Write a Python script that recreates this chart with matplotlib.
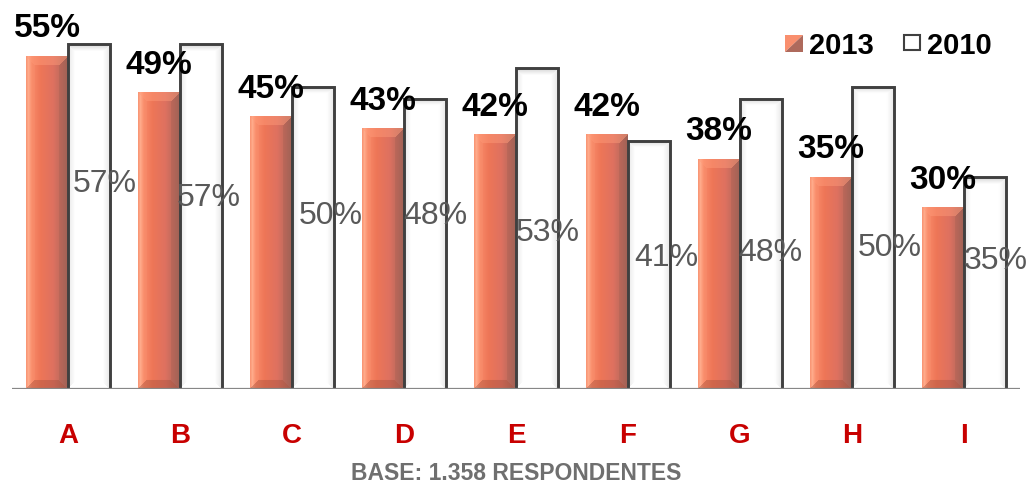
import numpy as np
import matplotlib
matplotlib.use("Agg")
import matplotlib.pyplot as plt
from matplotlib.patches import Polygon, Rectangle
from matplotlib.colors import to_rgb

plt.rcParams['font.family'] = ['Liberation Sans', 'DejaVu Sans']

# ---- data -----------------------------------------------------------------
categories = ['A', 'B', 'C', 'D', 'E', 'F', 'G', 'H', 'I']
values_2013 = [55, 49, 45, 43, 42, 42, 38, 35, 30]
values_2010 = [57, 57, 50, 48, 53, 41, 48, 50, 35]
series_names = ['2013', '2010']
footnote = 'BASE: 1.358 RESPONDENTES'

# placement of the 2010 value labels (centre height in %, shift right in px)
label_2010_y = [34.4, 32.1, 29.1, 29.1, 26.3, 22.1, 23.0, 23.8, 21.7]
label_2010_dx = [16, 8, 18, 10, 11, 17, 9, 17, 11]

# ---- layout ---------------------------------------------------------------
W, H, DPI = 1027, 486, 100
fig = plt.figure(figsize=(W / DPI, H / DPI), dpi=DPI)
AX_L, AX_R, AX_BASE = 12, 1020, 389
YMAX = 64.3
ax = fig.add_axes([AX_L / W, (H - AX_BASE) / H, (AX_R - AX_L) / W, AX_BASE / H])
n = len(categories)
ax.set_xlim(-0.5, n - 0.5)
ax.set_ylim(0, YMAX)
ax.axis('off')

PX_X = (AX_R - AX_L) / n       # pixels per category
PX_Y = AX_BASE / YMAX          # pixels per percentage point
BW = 0.375                     # bar width in category units
PT = 72 / DPI                  # points per pixel


def gradient(u, stops, cols):
    rgb = np.array([to_rgb(c) for c in cols])
    return np.stack([np.interp(u, stops, rgb[:, k]) for k in range(3)], axis=-1)


def bevel_image(wpx, hpx, stops, cols, faces, b=8, fade=False):
    xs = np.arange(wpx) + 0.5
    ys = np.arange(hpx) + 0.5
    X, Y = np.meshgrid(xs, ys)
    img = gradient(X / wpx, stops, cols)
    d = np.stack([Y, wpx - X, hpx - Y, X])      # top, right, bottom, left
    face = np.argmin(d, axis=0)
    dmin = d.min(axis=0)
    inside = dmin < b
    for k, (col, alpha) in enumerate(faces):
        m = inside & (face == k)
        if fade:
            a = (alpha * (1 - dmin[m] / b))[:, None]
        else:
            a = alpha
        img[m] = img[m] * (1 - a) + np.array(to_rgb(col)) * a
    return img


ORANGE_STOPS = [0.0, 0.06, 0.14, 0.35, 0.65, 1.0]
ORANGE_COLS = ['#F8906E', '#FFAA8A', '#F98A68', '#EE7657', '#DE7160', '#A6665A']
ORANGE_FACES = [('#FF9C7A', 0.45), ('#7A4A40', 0.15),
                ('#9A4834', 0.35), ('#FFB090', 0.10)]
WHITE_FACES = [('#C4C4C4', 0.75), ('#D8D8D8', 0.6),
               ('#FFFFFF', 0.0), ('#D8D8D8', 0.6)]

wpx = int(round(BW * PX_X))
for i, (v13, v10) in enumerate(zip(values_2013, values_2010)):
    # 2013 bar: shaded orange
    x0 = i - BW
    img = bevel_image(wpx, max(int(round(v13 * PX_Y)), 20),
                      ORANGE_STOPS, ORANGE_COLS, ORANGE_FACES, b=9)
    ax.imshow(img, extent=[x0, x0 + BW, 0, v13], origin='upper',
              aspect='auto', interpolation='bilinear', zorder=2)

    # 2010 bar: white with dark outline
    x1 = i
    img = bevel_image(wpx, max(int(round(v10 * PX_Y)), 20),
                      [0, 1], ['#FFFFFF', '#FFFFFF'], WHITE_FACES, b=7, fade=True)
    ax.imshow(img, extent=[x1, x1 + BW, 0, v10], origin='upper',
              aspect='auto', interpolation='bilinear', zorder=2)
    ax.plot([x1, x1, x1 + BW, x1 + BW], [0, v10, v10, 0], color='#404040',
            lw=2.1, solid_joinstyle='miter', solid_capstyle='butt', zorder=3)

    # value labels
    ax.annotate(f'{v13}%', (i - BW / 2, v13), xytext=(0, 19 * PT),
                textcoords='offset points', ha='center', va='baseline',
                fontsize=24, fontweight='bold', color='black', zorder=5)
    ax.annotate(f'{v10}%', (i + BW / 2, label_2010_y[i]),
                xytext=(label_2010_dx[i] * PT, -11 * PT),
                textcoords='offset points', ha='center', va='baseline',
                fontsize=23, color='#595959', zorder=5)

    # category label
    ax.annotate(categories[i], (i, 0), xytext=(0, -(443 - AX_BASE) * PT),
                textcoords='offset points', ha='center', va='baseline',
                fontsize=20, fontweight='bold', color='#C80000',
                annotation_clip=False)

ax.axhline(0, color='#878787', lw=1.6, zorder=4)


# ---- legend (pixel placement) ---------------------------------------------
def fx(x):
    return x / W


def fy(y):
    return 1 - y / H


sq = dict(transform=fig.transFigure)
fig.add_artist(Polygon([(fx(785), fy(35)), (fx(803), fy(35)), (fx(785), fy(52))],
                       closed=True, facecolor='#F98F6E', edgecolor='none', **sq))
fig.add_artist(Polygon([(fx(803), fy(35)), (fx(803), fy(52)), (fx(785), fy(52))],
                       closed=True, facecolor='#AE6A5C', edgecolor='none', **sq))
fig.add_artist(Rectangle((fx(904), fy(50)), fx(16), 15 / H, facecolor='white',
                         edgecolor='#404040', lw=1.5, **sq))
fig.text(fx(809), fy(54), series_names[0], ha='left', va='baseline',
         fontsize=21, fontweight='bold', color='black')
fig.text(fx(927), fy(54), series_names[1], ha='left', va='baseline',
         fontsize=21, fontweight='bold', color='black')

fig.text(fx(516), fy(480), footnote, ha='center', va='baseline',
         fontsize=16.5, fontweight='bold', color='#6F6F6F')

fig.savefig('out.png', dpi=DPI)
